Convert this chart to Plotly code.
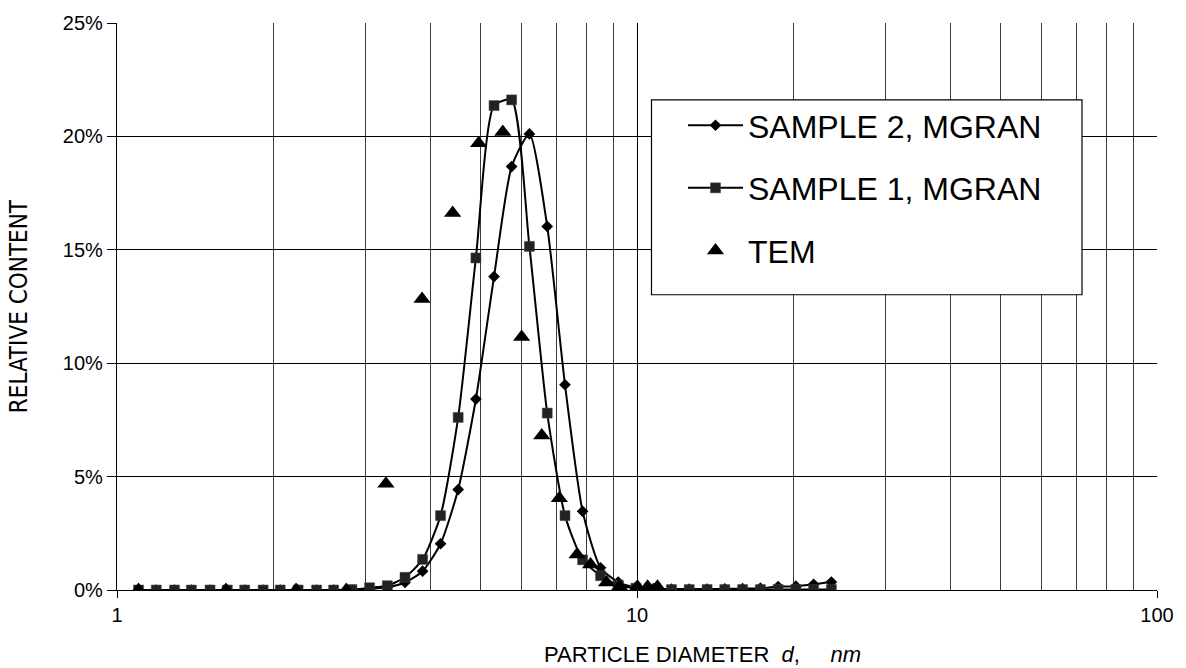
import plotly.graph_objects as go

# ---------------- data ----------------
D_MGRAN = [1.10, 1.19, 1.29, 1.39, 1.51, 1.63, 1.76, 1.91, 2.06, 2.23,
           2.42, 2.61, 2.83, 3.06, 3.31, 3.58, 3.87, 4.19, 4.53, 4.90,
           5.31, 5.74, 6.21, 6.72, 7.27, 7.86, 8.51, 9.20, 9.95, 10.77,
           11.65, 12.60, 13.64, 14.75, 15.96, 17.27, 18.68, 20.21, 21.86, 23.65]

SAMPLE2 = [0, 0, 0, 0, 0, 0, 0, 0, 0, 0,
           0, 0, 0, 0.05, 0.12, 0.33, 0.83, 2.04, 4.43, 8.42,
           13.82, 18.67, 20.11, 16.03, 9.05, 3.47, 0.98, 0.35, 0.12, 0.06,
           0.04, 0.04, 0.04, 0.05, 0.06, 0.08, 0.15, 0.17, 0.25, 0.35]

SAMPLE1 = [0, 0, 0, 0, 0, 0, 0, 0, 0, 0,
           0, 0, 0.02, 0.10, 0.19, 0.56, 1.35, 3.28, 7.61, 14.64,
           21.36, 21.61, 15.15, 7.80, 3.28, 1.33, 0.63, 0.22, 0.08, 0.04,
           0.02, 0.02, 0.02, 0.02, 0.02, 0.02, 0.02, 0.02, 0.02, 0.02]

D_TEM = [1.10, 1.62, 2.21, 2.76, 3.29, 3.86, 4.42, 4.96, 5.52, 6.00,
         6.56, 7.09, 7.67, 8.14, 8.74, 9.26, 10.02, 10.48, 10.95]
TEM = [0, 0, 0, 0, 4.68, 12.83, 16.62, 19.70, 20.19, 11.15,
       6.81, 4.04, 1.56, 1.12, 0.33, 0.15, 0.14, 0.14, 0.14]

SERIES_NAMES = ["SAMPLE 2, MGRAN", "SAMPLE 1, MGRAN", "TEM"]

X_MAJOR_TICKS = [1, 10, 100]
X_MAJOR_LABELS = ["1", "10", "100"]
X_MINOR_TICKS = [2, 3, 4, 5, 6, 7, 8, 9, 20, 30, 40, 50, 60, 70, 80, 90]
Y_TICKS = [0, 5, 10, 15, 20, 25]
Y_TICK_LABELS = ["0%", "5%", "10%", "15%", "20%", "25%"]

X_TITLE = "PARTICLE DIAMETER\u00a0\u00a0<i>d</i>,\u00a0\u00a0\u00a0\u00a0\u00a0<i>nm</i>"
Y_TITLE = "RELATIVE CONTENT"

# ---------------- figure ----------------
FONT = "Liberation Sans, Arial, Helvetica, sans-serif"
NARROW = "Liberation Sans Narrow, DejaVu Sans Condensed, Liberation Sans, sans-serif"

FIG_W, FIG_H = 1186, 668
# plot area in page pixel coordinates
PL, PR, PT, PB = 117, 1157, 23, 590.5


def px_x(p):
    return (p - PL) / (PR - PL)


def px_y(p):
    return (PB - p) / (PB - PT)


fig = go.Figure()

fig.add_trace(go.Scatter(
    x=D_MGRAN, y=SAMPLE2, name=SERIES_NAMES[0], mode="lines+markers",
    line=dict(color="black", width=2, shape="spline", smoothing=0.6),
    marker=dict(symbol="diamond", size=9, color="black"),
    legendgroup="g1",
))
fig.add_trace(go.Scatter(
    x=D_MGRAN, y=SAMPLE1, name=SERIES_NAMES[1], mode="lines+markers",
    line=dict(color="black", width=2, shape="spline", smoothing=0.6),
    marker=dict(symbol="square", size=10, color="#222222",
                line=dict(color="#444444", width=0.5)),
    legendgroup="g2",
))
fig.add_trace(go.Scatter(
    x=D_TEM, y=TEM, name=SERIES_NAMES[2], mode="markers",
    marker=dict(symbol="triangle-up", size=15, color="black"),
    legendgroup="g3",
))

# legend frame
fig.add_shape(type="rect", xref="paper", yref="paper",
              x0=px_x(651.5), x1=px_x(1082), y0=px_y(295), y1=px_y(100),
              line=dict(color="black", width=1.2), fillcolor="white", layer="above")

fig.add_annotation(text=X_TITLE, xref="paper", yref="paper",
                   x=px_x(702), y=px_y(655), xanchor="center", yanchor="middle",
                   showarrow=False, font=dict(size=22, family=FONT, color="black"))
fig.add_annotation(text=Y_TITLE, xref="paper", yref="paper", textangle=-90,
                   x=px_x(19), y=px_y(306.5), xanchor="center", yanchor="middle",
                   showarrow=False, font=dict(size=24, family=NARROW, color="black"))

fig.update_layout(
    width=FIG_W, height=FIG_H,
    margin=dict(l=PL, r=FIG_W - PR, t=PT, b=FIG_H - PB),
    paper_bgcolor="white", plot_bgcolor="white",
    font=dict(family=FONT, color="black", size=20),
    showlegend=True,
    legend=dict(
        x=px_x(683), y=px_y(98), xanchor="left", yanchor="top",
        bgcolor="rgba(0,0,0,0)", borderwidth=0,
        font=dict(family=FONT, size=32, color="black"),
        itemwidth=55, traceorder="grouped", tracegroupgap=18,
    ),
    xaxis=dict(
        type="log", range=[0, 2],
        tickmode="array", tickvals=X_MAJOR_TICKS, ticktext=X_MAJOR_LABELS,
        ticks="outside", ticklen=7, tickcolor="black", tickwidth=1,
        showgrid=True, gridcolor="black", gridwidth=1,
        showline=True, linecolor="black", linewidth=1.2,
        tickfont=dict(size=20, family=FONT),
        minor=dict(tickmode="array", tickvals=X_MINOR_TICKS, showgrid=True,
                   gridcolor="#3a3a3a", gridwidth=1, ticks=""),
        zeroline=False,
    ),
    yaxis=dict(
        range=[0, 25],
        tickmode="array", tickvals=Y_TICKS, ticktext=Y_TICK_LABELS,
        ticks="outside", ticklen=9, tickcolor="black", tickwidth=1,
        showgrid=True, gridcolor="black", gridwidth=1,
        showline=True, linecolor="black", linewidth=1.2,
        tickfont=dict(size=20, family=FONT),
        zeroline=False,
    ),
)

fig.write_html(
    "out.html",
    config={"displayModeBar": False},
    post_script="document.body.style.margin='0';document.body.style.padding='0';"
                "document.body.style.overflow='hidden';",
)
